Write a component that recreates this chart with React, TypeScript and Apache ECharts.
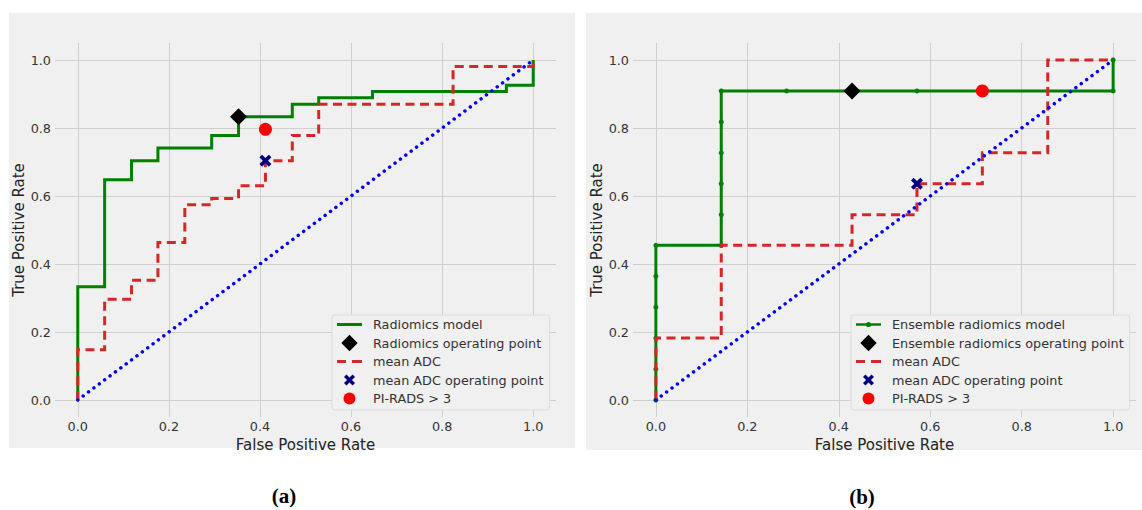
import React, { useEffect, useRef } from "react";
import * as echarts from "echarts";

// ---------- data ----------
const tickValues = [0, 0.2, 0.4, 0.6, 0.8, 1.0];

const chanceFpr = [0, 1];
const chanceTpr = [0, 1];

// Panel (a)
const radiomicsFpr = [0, 0, 0.059, 0.059, 0.118, 0.118, 0.176, 0.176, 0.294, 0.294, 0.353, 0.353, 0.471, 0.471, 0.529, 0.529, 0.647, 0.647, 0.941, 0.941, 1, 1];
const radiomicsTpr = [0, 0.333, 0.333, 0.648, 0.648, 0.704, 0.704, 0.741, 0.741, 0.778, 0.778, 0.833, 0.833, 0.87, 0.87, 0.889, 0.889, 0.907, 0.907, 0.926, 0.926, 1];
const adcAFpr = [0, 0, 0.059, 0.059, 0.118, 0.118, 0.176, 0.176, 0.235, 0.235, 0.294, 0.294, 0.353, 0.353, 0.412, 0.412, 0.471, 0.471, 0.529, 0.529, 0.824, 0.824, 1, 1];
const adcATpr = [0, 0.148, 0.148, 0.296, 0.296, 0.352, 0.352, 0.463, 0.463, 0.574, 0.574, 0.593, 0.593, 0.63, 0.63, 0.704, 0.704, 0.778, 0.778, 0.87, 0.87, 0.981, 0.981, 1];
const radiomicsOpA = [0.353, 0.833];
const adcOpA = [0.412, 0.704];
const piradsA = [0.412, 0.796];

// Panel (b)
const ensembleFpr = [0, 0, 0, 0, 0, 0, 0.143, 0.143, 0.143, 0.143, 0.143, 0.143, 0.286, 0.429, 0.571, 0.714, 1, 1];
const ensembleTpr = [0, 0.091, 0.182, 0.273, 0.364, 0.455, 0.455, 0.545, 0.636, 0.727, 0.818, 0.909, 0.909, 0.909, 0.909, 0.909, 0.909, 1];
const adcBFpr = [0, 0, 0.143, 0.143, 0.429, 0.429, 0.571, 0.571, 0.714, 0.714, 0.857, 0.857, 1];
const adcBTpr = [0, 0.182, 0.182, 0.455, 0.455, 0.545, 0.545, 0.636, 0.636, 0.727, 0.727, 1, 1];
const ensembleOpB = [0.429, 0.909];
const adcOpB = [0.571, 0.636];
const piradsB = [0.714, 0.909];

const namesA = ["Radiomics model", "Radiomics operating point", "mean ADC", "mean ADC operating point", "PI-RADS > 3"];
const namesB = ["Ensemble radiomics model", "Ensemble radiomics operating point", "mean ADC", "mean ADC operating point", "PI-RADS > 3"];

// ---------- styles ----------
const FONT = "DejaVu Sans";
const GREEN = "#008000";
const RED = "#d62728";
const NAVY = "#000080";
const BLUE = "#0000ff";
const XPATH = "path://M0 2.2L2.2 0L5 2.8L7.8 0L10 2.2L7.2 5L10 7.8L7.8 10L5 7.2L2.2 10L0 7.8L2.8 5Z";

const ICON_LINE = "path://M0 0M31 17M0 7H25V10H0Z";
const ICON_LINE_DOT = "path://M0 0M31 17M0 7.2H25V9.8H0ZM15.1 8.5A2.6 2.6 0 1 1 9.9 8.5A2.6 2.6 0 1 1 15.1 8.5Z";
const ICON_DASH = "path://M0 0M31 17M0 7H9V10H0ZM15 7H25V10H15Z";
const ICON_DIAMOND = "path://M0 0M31 17M12.5 0.3L20.7 8.5L12.5 16.7L4.3 8.5Z";
const ICON_X = "path://M0 0M31 17M7 5.42L9.42 3L12.5 6.08L15.58 3L18 5.42L14.92 8.5L18 11.58L15.58 14L12.5 10.92L9.42 14L7 11.58L10.08 8.5Z";
const ICON_CIRCLE = "path://M0 0M31 17M18.5 8.5A6 6 0 1 1 6.5 8.5A6 6 0 1 1 18.5 8.5Z";

const pairs = (xs: number[], ys: number[]) => xs.map((x, i) => [x, ys[i]]);

function axisPair(gridIndex: number) {
  const common = {
    type: "value" as const,
    gridIndex,
    min: -0.05,
    max: 1.05,
    axisLine: { show: false },
    axisTick: { show: false, customValues: tickValues },
    splitLine: { show: true, lineStyle: { color: "#cfcfcf", width: 1 } },
    nameLocation: "middle" as const,
    nameTextStyle: { fontSize: 15, color: "#222", fontFamily: FONT },
  };
  return {
    x: {
      ...common,
      name: "False Positive Rate",
      nameGap: 15,
      axisLabel: { customValues: tickValues, formatter: (v: number) => v.toFixed(1), fontSize: 12.8, color: "#333", margin: 3, fontFamily: FONT },
    },
    y: {
      ...common,
      name: "True Positive Rate",
      nameGap: gridIndex === 0 ? 29 : 28,
      axisLabel: { customValues: tickValues, formatter: (v: number) => v.toFixed(1), fontSize: 12.8, color: "#333", margin: 4, fontFamily: FONT },
    },
  };
}

function panelSeries(idx: number, names: string[], model: number[][], modelDots: boolean, op: number[], adc: number[][], adcOp: number[], pirads: number[]) {
  return [
    {
      name: names[0], type: "line", xAxisIndex: idx, yAxisIndex: idx, data: model,
      symbol: modelDots ? "circle" : "none", showSymbol: modelDots, symbolSize: 5,
      itemStyle: { color: GREEN, borderWidth: 0, opacity: 1 },
      lineStyle: { color: GREEN, width: 3, join: "miter" }, z: 2,
    },
    {
      name: names[1], type: "scatter", xAxisIndex: idx, yAxisIndex: idx, data: [op],
      symbol: "diamond", symbolSize: 17, itemStyle: { color: "#000000", opacity: 1 }, z: 3,
    },
    {
      name: names[2], type: "line", xAxisIndex: idx, yAxisIndex: idx, data: adc,
      symbol: "none", showSymbol: false, itemStyle: { color: RED, opacity: 1 },
      lineStyle: { color: RED, width: 3, type: [9, 5.5], join: "miter" }, z: 4,
    },
    {
      name: names[3], type: "scatter", xAxisIndex: idx, yAxisIndex: idx, data: [adcOp],
      symbol: XPATH, symbolSize: 12, itemStyle: { color: NAVY, opacity: 1 }, z: 5,
    },
    {
      name: names[4], type: "scatter", xAxisIndex: idx, yAxisIndex: idx, data: [pirads],
      symbol: "circle", symbolSize: 13, itemStyle: { color: "#ff0000", opacity: 1 }, z: 6,
    },
    {
      name: "chance", type: "line", xAxisIndex: idx, yAxisIndex: idx, data: pairs(chanceFpr, chanceTpr),
      symbol: "none", showSymbol: false, itemStyle: { color: BLUE },
      lineStyle: { color: BLUE, width: 3.5, type: [0.01, 6.7], cap: "round" }, z: 7,
    },
  ];
}

function legendFor(names: string[], left: number, firstIcon: string) {
  const icons = [firstIcon, ICON_DIAMOND, ICON_DASH, ICON_X, ICON_CIRCLE];
  return {
    orient: "vertical",
    left,
    top: 315,
    itemWidth: 31,
    itemHeight: 17,
    itemGap: 1.5,
    padding: [1, 6, 3, 5],
    backgroundColor: "#f0f0f0",
    borderColor: "#dddddd",
    borderWidth: 1,
    borderRadius: 3,
    selectedMode: false,
    itemStyle: { borderWidth: 0, opacity: 1 },
    textStyle: { fontSize: 12.8, color: "#333", fontFamily: FONT },
    data: names.map((n, i) => ({ name: n, icon: icons[i] })),
  };
}

export default function App() {
  const ref = useRef<HTMLDivElement>(null);
  useEffect(() => {
    if (!ref.current) return;
    const chart = echarts.init(ref.current, undefined, { renderer: "svg" });
    const a = axisPair(0);
    const b = axisPair(1);
    chart.setOption({
      animation: false,
      backgroundColor: "#ffffff",
      textStyle: { fontFamily: FONT },
      grid: [
        { left: 55, top: 43, width: 501, height: 374 },
        { left: 633, top: 43, width: 503, height: 374 },
      ],
      xAxis: [a.x, b.x],
      yAxis: [a.y, b.y],
      legend: [
        legendFor(namesA, 332, ICON_LINE),
        legendFor(namesB, 851, ICON_LINE_DOT),
      ],
      graphic: [
        { type: "rect", z: -10, silent: true, shape: { x: 9, y: 13, width: 566, height: 435 }, style: { fill: "#f0f0f0" } },
        { type: "rect", z: -10, silent: true, shape: { x: 586, y: 13, width: 556, height: 437 }, style: { fill: "#f0f0f0" } },
        { type: "text", x: 284, y: 496, style: { text: "(a)", align: "center", verticalAlign: "middle", font: 'bold 21px "Liberation Serif"', fill: "#000" } },
        { type: "text", x: 862, y: 497, style: { text: "(b)", align: "center", verticalAlign: "middle", font: 'bold 21px "Liberation Serif"', fill: "#000" } },
      ],
      series: [
        ...panelSeries(0, namesA, pairs(radiomicsFpr, radiomicsTpr), false, radiomicsOpA, pairs(adcAFpr, adcATpr), adcOpA, piradsA),
        ...panelSeries(1, namesB, pairs(ensembleFpr, ensembleTpr), true, ensembleOpB, pairs(adcBFpr, adcBTpr), adcOpB, piradsB),
      ],
    });
    return () => chart.dispose();
  }, []);
  return <div ref={ref} style={{ position: "absolute", left: 0, top: 0, width: 1142, height: 510 }} />;
}
